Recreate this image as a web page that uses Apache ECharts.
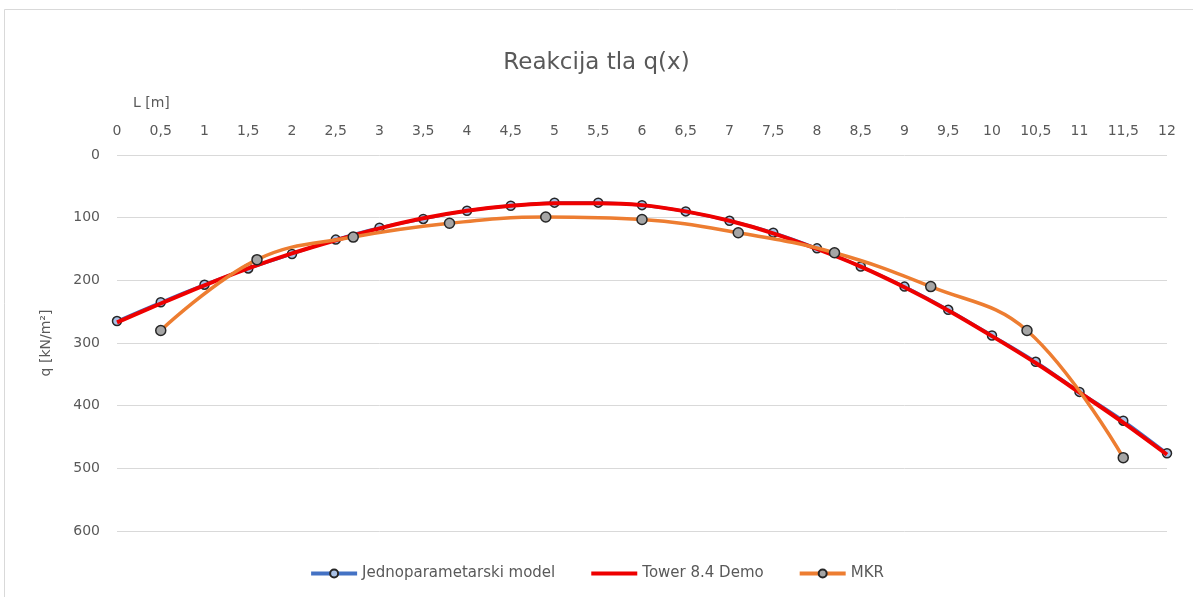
<!DOCTYPE html>
<html>
<head>
<meta charset="utf-8">
<title>Reakcija tla q(x)</title>
<script src="https://cdn.jsdelivr.net/npm/echarts@6/dist/echarts.min.js"></script>
<style>
  html, body { margin: 0; padding: 0; background: #fff; }
  #chart { width: 1193px; height: 597px; }
</style>
</head>
<body>
<div id="chart"></div>
<script>
// Positions along the beam L [m]
const xJedno = [0, 0.5, 1, 1.5, 2, 2.5, 3, 3.5, 4, 4.5, 5, 5.5, 6, 6.5, 7, 7.5, 8, 8.5, 9, 9.5, 10, 10.5, 11, 11.5, 12];
// Soil reaction q [kN/m²] — one-parameter model
const qJedno = [265, 235, 207, 181, 158, 135, 116, 102, 89, 81, 76, 76, 80, 90, 105, 124, 149, 178, 210, 247, 288, 330, 378, 424, 476];
// Soil reaction from Tower 8.4 Demo
const qTower = [267, 237, 208, 181, 157, 136, 117, 101, 89, 81, 77, 77, 80, 90, 105, 125, 150, 178, 211, 248, 289, 332, 379, 427, 478];
// Finite difference method (MKR) nodes
const xMKR = [0.5, 1.6, 2.7, 3.8, 4.9, 6.0, 7.1, 8.2, 9.3, 10.4, 11.5];
const qMKR = [280, 167, 131, 109, 99, 103, 124, 156, 210, 280, 483];

const FONT = 'DejaVu Sans';
const TXT = '#595959';

const pairs = (xs, ys) => xs.map((x, i) => [x, ys[i]]);

const chart = echarts.init(document.getElementById('chart'), null, { renderer: 'canvas' });
chart.setOption({
  backgroundColor: '#ffffff',
  animation: false,
  textStyle: { fontFamily: FONT },
  title: {
    text: 'Reakcija tla q(x)',
    left: 'center',
    top: 47,
    textStyle: { fontFamily: FONT, fontSize: 23, fontWeight: 'normal', color: TXT }
  },
  graphic: [
    {
      type: 'rect',
      shape: { x: 4.5, y: 9.5, width: 1300, height: 700 },
      style: { fill: 'none', stroke: '#d9d9d9', lineWidth: 1 },
      silent: true
    },
    {
      type: 'text',
      left: 133,
      top: 96,
      style: { text: 'L [m]', fontFamily: FONT, fontSize: 14, fill: TXT }
    }
  ],
  grid: { left: 117, right: 26, top: 155, bottom: 66 },
  legend: {
    bottom: 11,
    left: 'center',
    itemWidth: 46,
    itemHeight: 10,
    itemGap: 34,
    lineStyle: { width: 4 },
    textStyle: { fontFamily: FONT, fontSize: 15, color: TXT },
    data: [
      'Jednoparametarski model',
      { name: 'Tower 8.4 Demo', itemStyle: { opacity: 0 } },
      'MKR'
    ]
  },
  xAxis: {
    type: 'value',
    position: 'top',
    min: 0,
    max: 12,
    interval: 0.5,
    axisLine: { show: false },
    axisTick: { show: false },
    splitLine: { show: false },
    axisLabel: {
      margin: 17,
      fontFamily: FONT,
      fontSize: 14,
      color: TXT,
      formatter: v => String(v).replace('.', ',')
    }
  },
  yAxis: {
    type: 'value',
    inverse: true,
    min: 0,
    max: 600,
    interval: 100,
    name: 'q [kN/m²]',
    nameLocation: 'middle',
    nameGap: 64,
    nameRotate: 90,
    nameTextStyle: { fontFamily: FONT, fontSize: 14, color: TXT },
    axisLine: { show: false },
    axisTick: { show: false },
    splitLine: { lineStyle: { color: '#d9d9d9', width: 1 } },
    axisLabel: { margin: 17, fontFamily: FONT, fontSize: 14, color: TXT }
  },
  series: [
    {
      name: 'Jednoparametarski model',
      type: 'line',
      data: pairs(xJedno, qJedno),
      smooth: 0.3,
      symbol: 'circle',
      symbolSize: 9,
      showAllSymbol: true,
      lineStyle: { color: '#4472c4', width: 3 },
      itemStyle: { color: '#a9c1e6', borderColor: '#262626', borderWidth: 1.5 },
      z: 2
    },
    {
      name: 'Tower 8.4 Demo',
      type: 'line',
      data: pairs(xJedno, qTower),
      smooth: 0.3,
      symbol: 'none',
      lineStyle: { color: '#ee0000', width: 4 },
      itemStyle: { color: '#ee0000' },
      z: 3
    },
    {
      name: 'MKR',
      type: 'line',
      data: pairs(xMKR, qMKR),
      smooth: 0.4,
      symbol: 'circle',
      symbolSize: 10,
      showAllSymbol: true,
      lineStyle: { color: '#ed7d31', width: 3.5 },
      itemStyle: { color: '#a5a5a5', borderColor: '#262626', borderWidth: 1.5 },
      z: 4
    }
  ]
});
</script>
</body>
</html>
